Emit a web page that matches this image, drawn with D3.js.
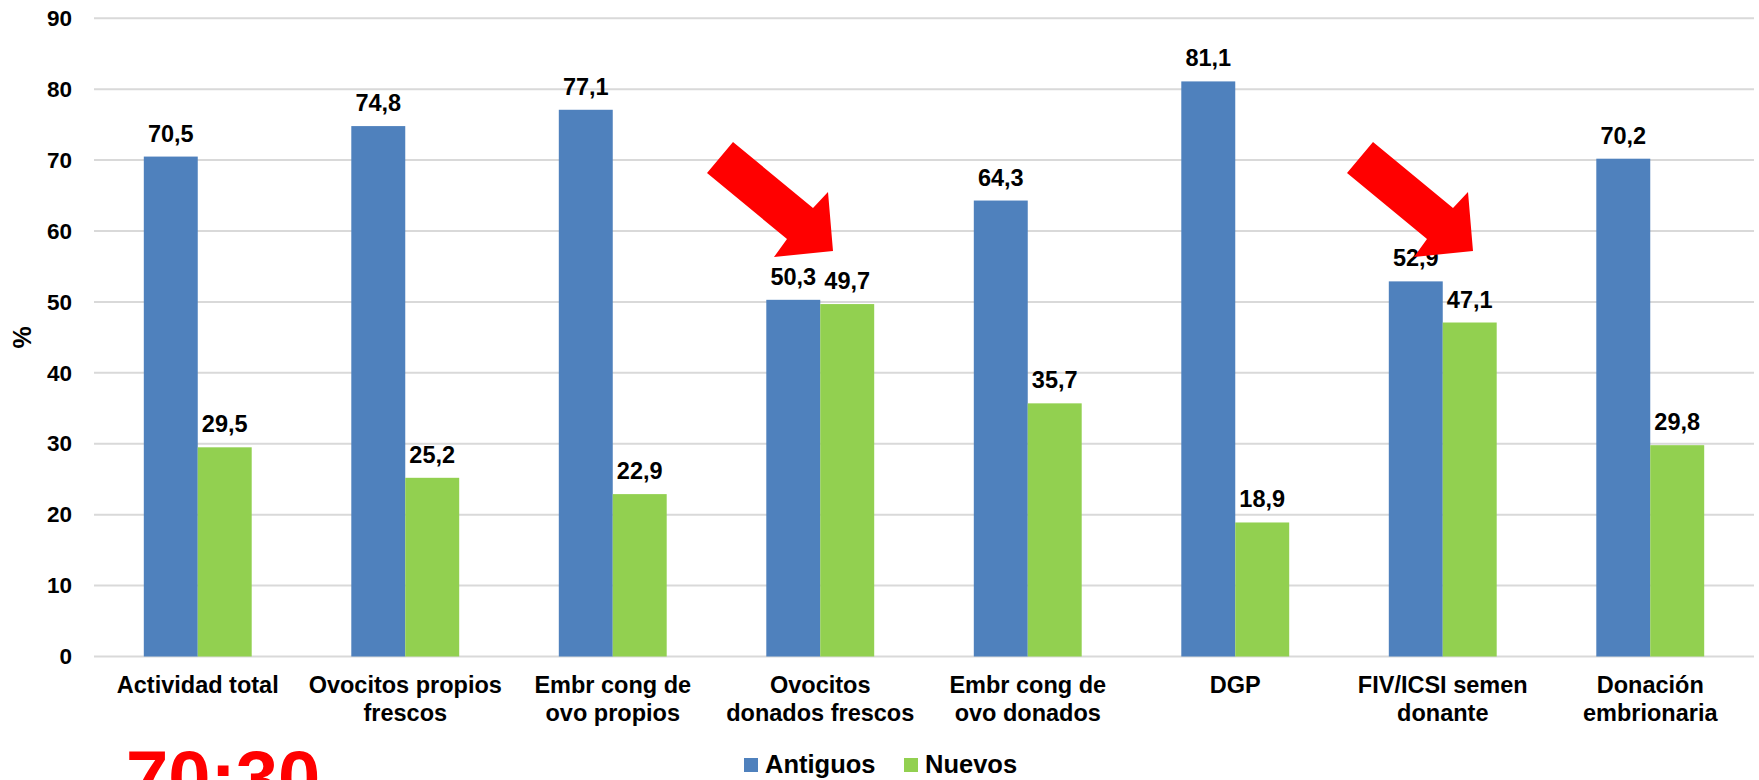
<!DOCTYPE html>
<html><head><meta charset="utf-8">
<script src="https://cdn.jsdelivr.net/npm/d3@7"></script>
<style>
body{margin:0;background:#fff;}
svg{display:block;font-family:"Liberation Sans",Arial,sans-serif;font-weight:bold;}
</style></head>
<body>
<svg id="chart" width="1759" height="780"></svg>
<script>
const categories = [
  ["Actividad total"],
  ["Ovocitos propios","frescos"],
  ["Embr cong de","ovo propios"],
  ["Ovocitos","donados frescos"],
  ["Embr cong de","ovo donados"],
  ["DGP"],
  ["FIV/ICSI semen","donante"],
  ["Donación","embrionaria"]
];
const seriesNames = ["Antiguos","Nuevos"];
const antiguos = [70.5,74.8,77.1,50.3,64.3,81.1,52.9,70.2];
const nuevos   = [29.5,25.2,22.9,49.7,35.7,18.9,47.1,29.8];
const yTicks = [0,10,20,30,40,50,60,70,80,90];
const colors = ["#4F81BD","#92D050"];

const svg = d3.select("#chart");
const L = 94, R = 1754, T = 18.3, B = 656.5;
const x = d3.scaleBand().domain(d3.range(categories.length)).range([L,R]).paddingInner(0.48).paddingOuter(0.24);
const xs = d3.scaleBand().domain(d3.range(2)).range([0,x.bandwidth()]);
const y = d3.scaleLinear().domain([0,90]).range([B,T]);

// grid
svg.append("g").selectAll("line").data(yTicks).join("line")
  .attr("x1",L).attr("x2",R).attr("y1",d=>y(d)).attr("y2",d=>y(d))
  .attr("stroke","#D9D9D9").attr("stroke-width",2);

// y axis labels
const yAxis = d3.axisLeft(y).tickValues(yTicks).tickSize(0).tickPadding(22).tickFormat(d3.format("d"));
const ga = svg.append("g").attr("transform",`translate(${L},0)`).call(yAxis);
ga.select(".domain").remove();
ga.selectAll("text").attr("font-size",22.5).attr("font-family","Liberation Sans, Arial").attr("font-weight","bold").attr("fill","#000");

// y title
svg.append("text").attr("transform",`translate(31,${(T+B)/2}) rotate(-90)`)
  .attr("text-anchor","middle").attr("font-size",25).text("%");

const data = categories.map((c,i)=>({i, vals:[antiguos[i],nuevos[i]]}));
const groups = svg.append("g").selectAll("g").data(data).join("g")
  .attr("transform",d=>`translate(${x(d.i)},0)`);
groups.selectAll("rect").data(d=>d.vals.map((v,k)=>({v,k}))).join("rect")
  .attr("x",d=>xs(d.k)).attr("width",xs.bandwidth())
  .attr("y",d=>y(d.v)).attr("height",d=>y(0)-y(d.v))
  .attr("fill",d=>colors[d.k]);
groups.selectAll("text.val").data(d=>d.vals.map((v,k)=>({v,k}))).join("text")
  .attr("class","val")
  .attr("x",d=>xs(d.k)+xs.bandwidth()/2).attr("y",d=>y(d.v)-15)
  .attr("text-anchor","middle").attr("font-size",23.5)
  .text(d=>d3.format(".1f")(d.v).replace(".",","));

// category labels
const cl = svg.append("g").selectAll("text").data(categories).join("text")
  .attr("text-anchor","middle").attr("font-size",23.5)
  .attr("transform",(d,i)=>`translate(${x(i)+x.bandwidth()/2},693)`);
cl.selectAll("tspan").data(d=>d).join("tspan")
  .attr("x",0).attr("dy",(d,j)=>j===0?0:28).text(d=>d);

// arrows (annotation)
function arrow(tx,ty){
  const pts = [[-126,-78],[-100,-109],[-20,-43],[-5,-59],[0,0],[-59,6],[-46,-12]];
  svg.append("polygon").attr("points",pts.map(p=>[tx+p[0],ty+p[1]].join(",")).join(" "))
    .attr("fill","#FF0000");
}
arrow(833,251);
arrow(1473,251);

// legend
const lg = svg.append("g");
const legX = [744,904];
seriesNames.forEach((n,k)=>{
  lg.append("rect").attr("x",legX[k]).attr("y",758).attr("width",14).attr("height",14).attr("fill",colors[k]);
  lg.append("text").attr("x",legX[k]+21).attr("y",773).attr("font-size",25.5).text(n);
});

// big annotation (cut off at bottom edge, as in the original)
svg.append("text").attr("x",126).attr("y",804).attr("font-size",76).attr("fill","#FF0000").text("70:30");
</script>
</body></html>
